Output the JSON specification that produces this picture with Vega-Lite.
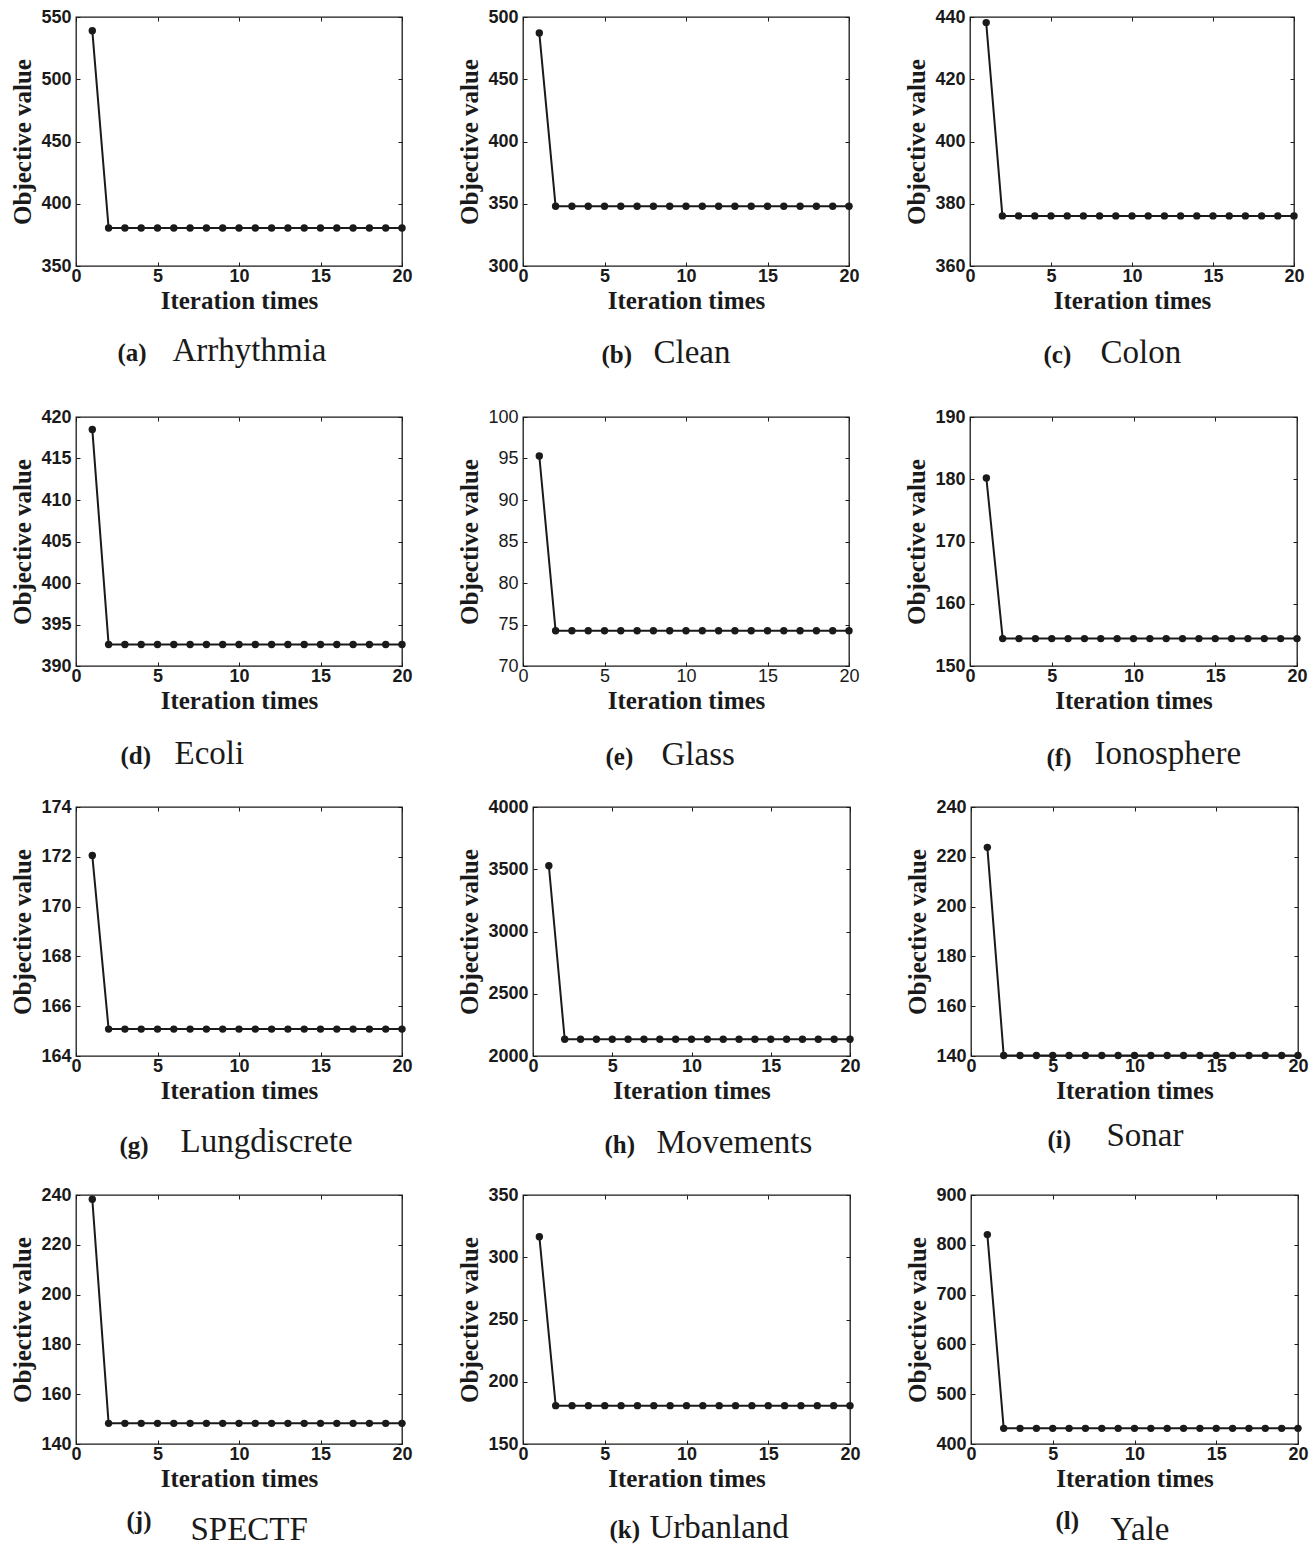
{
"$schema":"https://vega.github.io/schema/vega-lite/v6.json",
"padding":{"left":10,"top":7,"right":5,"bottom":0},
"background":"white",
"datasets":{
"a":[{"iter":1,"value":539},{"iter":2,"value":380.5},{"iter":3,"value":380.5},{"iter":4,"value":380.5},{"iter":5,"value":380.5},{"iter":6,"value":380.5},{"iter":7,"value":380.5},{"iter":8,"value":380.5},{"iter":9,"value":380.5},{"iter":10,"value":380.5},{"iter":11,"value":380.5},{"iter":12,"value":380.5},{"iter":13,"value":380.5},{"iter":14,"value":380.5},{"iter":15,"value":380.5},{"iter":16,"value":380.5},{"iter":17,"value":380.5},{"iter":18,"value":380.5},{"iter":19,"value":380.5},{"iter":20,"value":380.5}],
"b":[{"iter":1,"value":487.2},{"iter":2,"value":348},{"iter":3,"value":348},{"iter":4,"value":348},{"iter":5,"value":348},{"iter":6,"value":348},{"iter":7,"value":348},{"iter":8,"value":348},{"iter":9,"value":348},{"iter":10,"value":348},{"iter":11,"value":348},{"iter":12,"value":348},{"iter":13,"value":348},{"iter":14,"value":348},{"iter":15,"value":348},{"iter":16,"value":348},{"iter":17,"value":348},{"iter":18,"value":348},{"iter":19,"value":348},{"iter":20,"value":348}],
"c":[{"iter":1,"value":438.2},{"iter":2,"value":376.1},{"iter":3,"value":376.1},{"iter":4,"value":376.1},{"iter":5,"value":376.1},{"iter":6,"value":376.1},{"iter":7,"value":376.1},{"iter":8,"value":376.1},{"iter":9,"value":376.1},{"iter":10,"value":376.1},{"iter":11,"value":376.1},{"iter":12,"value":376.1},{"iter":13,"value":376.1},{"iter":14,"value":376.1},{"iter":15,"value":376.1},{"iter":16,"value":376.1},{"iter":17,"value":376.1},{"iter":18,"value":376.1},{"iter":19,"value":376.1},{"iter":20,"value":376.1}],
"d":[{"iter":1,"value":418.5},{"iter":2,"value":392.6},{"iter":3,"value":392.6},{"iter":4,"value":392.6},{"iter":5,"value":392.6},{"iter":6,"value":392.6},{"iter":7,"value":392.6},{"iter":8,"value":392.6},{"iter":9,"value":392.6},{"iter":10,"value":392.6},{"iter":11,"value":392.6},{"iter":12,"value":392.6},{"iter":13,"value":392.6},{"iter":14,"value":392.6},{"iter":15,"value":392.6},{"iter":16,"value":392.6},{"iter":17,"value":392.6},{"iter":18,"value":392.6},{"iter":19,"value":392.6},{"iter":20,"value":392.6}],
"e":[{"iter":1,"value":95.3},{"iter":2,"value":74.25},{"iter":3,"value":74.25},{"iter":4,"value":74.25},{"iter":5,"value":74.25},{"iter":6,"value":74.25},{"iter":7,"value":74.25},{"iter":8,"value":74.25},{"iter":9,"value":74.25},{"iter":10,"value":74.25},{"iter":11,"value":74.25},{"iter":12,"value":74.25},{"iter":13,"value":74.25},{"iter":14,"value":74.25},{"iter":15,"value":74.25},{"iter":16,"value":74.25},{"iter":17,"value":74.25},{"iter":18,"value":74.25},{"iter":19,"value":74.25},{"iter":20,"value":74.25}],
"f":[{"iter":1,"value":180.2},{"iter":2,"value":154.4},{"iter":3,"value":154.4},{"iter":4,"value":154.4},{"iter":5,"value":154.4},{"iter":6,"value":154.4},{"iter":7,"value":154.4},{"iter":8,"value":154.4},{"iter":9,"value":154.4},{"iter":10,"value":154.4},{"iter":11,"value":154.4},{"iter":12,"value":154.4},{"iter":13,"value":154.4},{"iter":14,"value":154.4},{"iter":15,"value":154.4},{"iter":16,"value":154.4},{"iter":17,"value":154.4},{"iter":18,"value":154.4},{"iter":19,"value":154.4},{"iter":20,"value":154.4}],
"g":[{"iter":1,"value":172.05},{"iter":2,"value":165.08},{"iter":3,"value":165.08},{"iter":4,"value":165.08},{"iter":5,"value":165.08},{"iter":6,"value":165.08},{"iter":7,"value":165.08},{"iter":8,"value":165.08},{"iter":9,"value":165.08},{"iter":10,"value":165.08},{"iter":11,"value":165.08},{"iter":12,"value":165.08},{"iter":13,"value":165.08},{"iter":14,"value":165.08},{"iter":15,"value":165.08},{"iter":16,"value":165.08},{"iter":17,"value":165.08},{"iter":18,"value":165.08},{"iter":19,"value":165.08},{"iter":20,"value":165.08}],
"h":[{"iter":1,"value":3528},{"iter":2,"value":2134},{"iter":3,"value":2134},{"iter":4,"value":2134},{"iter":5,"value":2134},{"iter":6,"value":2134},{"iter":7,"value":2134},{"iter":8,"value":2134},{"iter":9,"value":2134},{"iter":10,"value":2134},{"iter":11,"value":2134},{"iter":12,"value":2134},{"iter":13,"value":2134},{"iter":14,"value":2134},{"iter":15,"value":2134},{"iter":16,"value":2134},{"iter":17,"value":2134},{"iter":18,"value":2134},{"iter":19,"value":2134},{"iter":20,"value":2134}],
"i":[{"iter":1,"value":223.8},{"iter":2,"value":140.2},{"iter":3,"value":140.2},{"iter":4,"value":140.2},{"iter":5,"value":140.2},{"iter":6,"value":140.2},{"iter":7,"value":140.2},{"iter":8,"value":140.2},{"iter":9,"value":140.2},{"iter":10,"value":140.2},{"iter":11,"value":140.2},{"iter":12,"value":140.2},{"iter":13,"value":140.2},{"iter":14,"value":140.2},{"iter":15,"value":140.2},{"iter":16,"value":140.2},{"iter":17,"value":140.2},{"iter":18,"value":140.2},{"iter":19,"value":140.2},{"iter":20,"value":140.2}],
"j":[{"iter":1,"value":238.3},{"iter":2,"value":148.3},{"iter":3,"value":148.3},{"iter":4,"value":148.3},{"iter":5,"value":148.3},{"iter":6,"value":148.3},{"iter":7,"value":148.3},{"iter":8,"value":148.3},{"iter":9,"value":148.3},{"iter":10,"value":148.3},{"iter":11,"value":148.3},{"iter":12,"value":148.3},{"iter":13,"value":148.3},{"iter":14,"value":148.3},{"iter":15,"value":148.3},{"iter":16,"value":148.3},{"iter":17,"value":148.3},{"iter":18,"value":148.3},{"iter":19,"value":148.3},{"iter":20,"value":148.3}],
"k":[{"iter":1,"value":316.5},{"iter":2,"value":180.8},{"iter":3,"value":180.8},{"iter":4,"value":180.8},{"iter":5,"value":180.8},{"iter":6,"value":180.8},{"iter":7,"value":180.8},{"iter":8,"value":180.8},{"iter":9,"value":180.8},{"iter":10,"value":180.8},{"iter":11,"value":180.8},{"iter":12,"value":180.8},{"iter":13,"value":180.8},{"iter":14,"value":180.8},{"iter":15,"value":180.8},{"iter":16,"value":180.8},{"iter":17,"value":180.8},{"iter":18,"value":180.8},{"iter":19,"value":180.8},{"iter":20,"value":180.8}],
"l":[{"iter":1,"value":820.5},{"iter":2,"value":431.4},{"iter":3,"value":431.4},{"iter":4,"value":431.4},{"iter":5,"value":431.4},{"iter":6,"value":431.4},{"iter":7,"value":431.4},{"iter":8,"value":431.4},{"iter":9,"value":431.4},{"iter":10,"value":431.4},{"iter":11,"value":431.4},{"iter":12,"value":431.4},{"iter":13,"value":431.4},{"iter":14,"value":431.4},{"iter":15,"value":431.4},{"iter":16,"value":431.4},{"iter":17,"value":431.4},{"iter":18,"value":431.4},{"iter":19,"value":431.4},{"iter":20,"value":431.4}]
},
"spacing":37,
"vconcat":[
{"spacing":44,"hconcat":[
{"width":326,"height":249,"data":{"name":"a"},"resolve":{"axis":{"x":"independent","y":"independent"}},"layer":[
 {"mark":{"type":"line","color":"#1a1a1a","strokeWidth":2},"encoding":{"x":{"field":"iter","type":"quantitative","scale":{"domain":[0,20],"nice":false,"zero":false},"axis":{"orient":"bottom","values":[0,5,10,15,20],"title":"Iteration times"}},"y":{"field":"value","type":"quantitative","scale":{"domain":[350,550],"nice":false,"zero":false},"axis":{"orient":"left","values":[350,400,450,500,550],"title":"Objective value"}}}},
 {"mark":{"type":"point","filled":true,"color":"#1a1a1a","size":55,"opacity":1},"encoding":{"x":{"field":"iter","type":"quantitative","scale":{"domain":[0,20],"nice":false,"zero":false},"axis":{"orient":"top","values":[0,5,10,15,20],"labels":false,"title":null}},"y":{"field":"value","type":"quantitative","scale":{"domain":[350,550],"nice":false,"zero":false},"axis":{"orient":"right","values":[350,400,450,500,550],"labels":false,"title":null}}}},
 {"mark":{"type":"point","opacity":0},"encoding":{"x":{"field":"iter","type":"quantitative","scale":{"domain":[0,20],"nice":false,"zero":false},"axis":{"orient":"bottom","ticks":false,"labels":false,"title":"(a)","titleFontSize":25,"titleAlign":"left","titleX":41,"titleY":94}},"y":{"field":"value","type":"quantitative","scale":{"domain":[350,550],"nice":false,"zero":false},"axis":null}}},
 {"mark":{"type":"point","opacity":0},"encoding":{"x":{"field":"iter","type":"quantitative","scale":{"domain":[0,20],"nice":false,"zero":false},"axis":{"orient":"bottom","ticks":false,"labels":false,"title":"Arrhythmia","titleFontSize":33,"titleFontWeight":"normal","titleAlign":"left","titleX":96,"titleY":94}},"y":{"field":"value","type":"quantitative","scale":{"domain":[350,550],"nice":false,"zero":false},"axis":null}}}
]},
{"width":326,"height":249,"data":{"name":"b"},"resolve":{"axis":{"x":"independent","y":"independent"}},"layer":[
 {"mark":{"type":"line","color":"#1a1a1a","strokeWidth":2},"encoding":{"x":{"field":"iter","type":"quantitative","scale":{"domain":[0,20],"nice":false,"zero":false},"axis":{"orient":"bottom","values":[0,5,10,15,20],"title":"Iteration times"}},"y":{"field":"value","type":"quantitative","scale":{"domain":[300,500],"nice":false,"zero":false},"axis":{"orient":"left","values":[300,350,400,450,500],"title":"Objective value"}}}},
 {"mark":{"type":"point","filled":true,"color":"#1a1a1a","size":55,"opacity":1},"encoding":{"x":{"field":"iter","type":"quantitative","scale":{"domain":[0,20],"nice":false,"zero":false},"axis":{"orient":"top","values":[0,5,10,15,20],"labels":false,"title":null}},"y":{"field":"value","type":"quantitative","scale":{"domain":[300,500],"nice":false,"zero":false},"axis":{"orient":"right","values":[300,350,400,450,500],"labels":false,"title":null}}}},
 {"mark":{"type":"point","opacity":0},"encoding":{"x":{"field":"iter","type":"quantitative","scale":{"domain":[0,20],"nice":false,"zero":false},"axis":{"orient":"bottom","ticks":false,"labels":false,"title":"(b)","titleFontSize":25,"titleAlign":"left","titleX":78,"titleY":96}},"y":{"field":"value","type":"quantitative","scale":{"domain":[300,500],"nice":false,"zero":false},"axis":null}}},
 {"mark":{"type":"point","opacity":0},"encoding":{"x":{"field":"iter","type":"quantitative","scale":{"domain":[0,20],"nice":false,"zero":false},"axis":{"orient":"bottom","ticks":false,"labels":false,"title":"Clean","titleFontSize":33,"titleFontWeight":"normal","titleAlign":"left","titleX":130,"titleY":96}},"y":{"field":"value","type":"quantitative","scale":{"domain":[300,500],"nice":false,"zero":false},"axis":null}}}
]},
{"width":324,"height":249,"data":{"name":"c"},"resolve":{"axis":{"x":"independent","y":"independent"}},"layer":[
 {"mark":{"type":"line","color":"#1a1a1a","strokeWidth":2},"encoding":{"x":{"field":"iter","type":"quantitative","scale":{"domain":[0,20],"nice":false,"zero":false},"axis":{"orient":"bottom","values":[0,5,10,15,20],"title":"Iteration times"}},"y":{"field":"value","type":"quantitative","scale":{"domain":[360,440],"nice":false,"zero":false},"axis":{"orient":"left","values":[360,380,400,420,440],"title":"Objective value"}}}},
 {"mark":{"type":"point","filled":true,"color":"#1a1a1a","size":55,"opacity":1},"encoding":{"x":{"field":"iter","type":"quantitative","scale":{"domain":[0,20],"nice":false,"zero":false},"axis":{"orient":"top","values":[0,5,10,15,20],"labels":false,"title":null}},"y":{"field":"value","type":"quantitative","scale":{"domain":[360,440],"nice":false,"zero":false},"axis":{"orient":"right","values":[360,380,400,420,440],"labels":false,"title":null}}}},
 {"mark":{"type":"point","opacity":0},"encoding":{"x":{"field":"iter","type":"quantitative","scale":{"domain":[0,20],"nice":false,"zero":false},"axis":{"orient":"bottom","ticks":false,"labels":false,"title":"(c)","titleFontSize":25,"titleAlign":"left","titleX":73,"titleY":96}},"y":{"field":"value","type":"quantitative","scale":{"domain":[360,440],"nice":false,"zero":false},"axis":null}}},
 {"mark":{"type":"point","opacity":0},"encoding":{"x":{"field":"iter","type":"quantitative","scale":{"domain":[0,20],"nice":false,"zero":false},"axis":{"orient":"bottom","ticks":false,"labels":false,"title":"Colon","titleFontSize":33,"titleFontWeight":"normal","titleAlign":"left","titleX":130,"titleY":96}},"y":{"field":"value","type":"quantitative","scale":{"domain":[360,440],"nice":false,"zero":false},"axis":null}}}
]}
]},
{"spacing":25,"vconcat":[
{"spacing":44,"hconcat":[
{"width":326,"height":249,"data":{"name":"d"},"resolve":{"axis":{"x":"independent","y":"independent"}},"layer":[
 {"mark":{"type":"line","color":"#1a1a1a","strokeWidth":2},"encoding":{"x":{"field":"iter","type":"quantitative","scale":{"domain":[0,20],"nice":false,"zero":false},"axis":{"orient":"bottom","values":[0,5,10,15,20],"title":"Iteration times"}},"y":{"field":"value","type":"quantitative","scale":{"domain":[390,420],"nice":false,"zero":false},"axis":{"orient":"left","values":[390,395,400,405,410,415,420],"title":"Objective value"}}}},
 {"mark":{"type":"point","filled":true,"color":"#1a1a1a","size":55,"opacity":1},"encoding":{"x":{"field":"iter","type":"quantitative","scale":{"domain":[0,20],"nice":false,"zero":false},"axis":{"orient":"top","values":[0,5,10,15,20],"labels":false,"title":null}},"y":{"field":"value","type":"quantitative","scale":{"domain":[390,420],"nice":false,"zero":false},"axis":{"orient":"right","values":[390,395,400,405,410,415,420],"labels":false,"title":null}}}},
 {"mark":{"type":"point","opacity":0},"encoding":{"x":{"field":"iter","type":"quantitative","scale":{"domain":[0,20],"nice":false,"zero":false},"axis":{"orient":"bottom","ticks":false,"labels":false,"title":"(d)","titleFontSize":25,"titleAlign":"left","titleX":44,"titleY":97}},"y":{"field":"value","type":"quantitative","scale":{"domain":[390,420],"nice":false,"zero":false},"axis":null}}},
 {"mark":{"type":"point","opacity":0},"encoding":{"x":{"field":"iter","type":"quantitative","scale":{"domain":[0,20],"nice":false,"zero":false},"axis":{"orient":"bottom","ticks":false,"labels":false,"title":"Ecoli","titleFontSize":33,"titleFontWeight":"normal","titleAlign":"left","titleX":98,"titleY":97}},"y":{"field":"value","type":"quantitative","scale":{"domain":[390,420],"nice":false,"zero":false},"axis":null}}}
]},
{"width":326,"height":249,"data":{"name":"e"},"resolve":{"axis":{"x":"independent","y":"independent"}},"layer":[
 {"mark":{"type":"line","color":"#1a1a1a","strokeWidth":2},"encoding":{"x":{"field":"iter","type":"quantitative","scale":{"domain":[0,20],"nice":false,"zero":false},"axis":{"orient":"bottom","values":[0,5,10,15,20],"title":"Iteration times","labelFontWeight":"normal"}},"y":{"field":"value","type":"quantitative","scale":{"domain":[70,100],"nice":false,"zero":false},"axis":{"orient":"left","values":[70,75,80,85,90,95,100],"title":"Objective value","labelFontWeight":"normal"}}}},
 {"mark":{"type":"point","filled":true,"color":"#1a1a1a","size":55,"opacity":1},"encoding":{"x":{"field":"iter","type":"quantitative","scale":{"domain":[0,20],"nice":false,"zero":false},"axis":{"orient":"top","values":[0,5,10,15,20],"labels":false,"title":null}},"y":{"field":"value","type":"quantitative","scale":{"domain":[70,100],"nice":false,"zero":false},"axis":{"orient":"right","values":[70,75,80,85,90,95,100],"labels":false,"title":null}}}},
 {"mark":{"type":"point","opacity":0},"encoding":{"x":{"field":"iter","type":"quantitative","scale":{"domain":[0,20],"nice":false,"zero":false},"axis":{"orient":"bottom","ticks":false,"labels":false,"title":"(e)","titleFontSize":25,"titleAlign":"left","titleX":82,"titleY":98}},"y":{"field":"value","type":"quantitative","scale":{"domain":[70,100],"nice":false,"zero":false},"axis":null}}},
 {"mark":{"type":"point","opacity":0},"encoding":{"x":{"field":"iter","type":"quantitative","scale":{"domain":[0,20],"nice":false,"zero":false},"axis":{"orient":"bottom","ticks":false,"labels":false,"title":"Glass","titleFontSize":33,"titleFontWeight":"normal","titleAlign":"left","titleX":138,"titleY":98}},"y":{"field":"value","type":"quantitative","scale":{"domain":[70,100],"nice":false,"zero":false},"axis":null}}}
]},
{"width":327,"height":249,"data":{"name":"f"},"resolve":{"axis":{"x":"independent","y":"independent"}},"layer":[
 {"mark":{"type":"line","color":"#1a1a1a","strokeWidth":2},"encoding":{"x":{"field":"iter","type":"quantitative","scale":{"domain":[0,20],"nice":false,"zero":false},"axis":{"orient":"bottom","values":[0,5,10,15,20],"title":"Iteration times"}},"y":{"field":"value","type":"quantitative","scale":{"domain":[150,190],"nice":false,"zero":false},"axis":{"orient":"left","values":[150,160,170,180,190],"title":"Objective value"}}}},
 {"mark":{"type":"point","filled":true,"color":"#1a1a1a","size":55,"opacity":1},"encoding":{"x":{"field":"iter","type":"quantitative","scale":{"domain":[0,20],"nice":false,"zero":false},"axis":{"orient":"top","values":[0,5,10,15,20],"labels":false,"title":null}},"y":{"field":"value","type":"quantitative","scale":{"domain":[150,190],"nice":false,"zero":false},"axis":{"orient":"right","values":[150,160,170,180,190],"labels":false,"title":null}}}},
 {"mark":{"type":"point","opacity":0},"encoding":{"x":{"field":"iter","type":"quantitative","scale":{"domain":[0,20],"nice":false,"zero":false},"axis":{"orient":"bottom","ticks":false,"labels":false,"title":"(f)","titleFontSize":25,"titleAlign":"left","titleX":76,"titleY":99}},"y":{"field":"value","type":"quantitative","scale":{"domain":[150,190],"nice":false,"zero":false},"axis":null}}},
 {"mark":{"type":"point","opacity":0},"encoding":{"x":{"field":"iter","type":"quantitative","scale":{"domain":[0,20],"nice":false,"zero":false},"axis":{"orient":"bottom","ticks":false,"labels":false,"title":"Ionosphere","titleFontSize":33,"titleFontWeight":"normal","titleAlign":"left","titleX":124,"titleY":97}},"y":{"field":"value","type":"quantitative","scale":{"domain":[150,190],"nice":false,"zero":false},"axis":null}}}
]}
]},
{"spacing":44,"hconcat":[
{"width":326,"height":249,"data":{"name":"g"},"resolve":{"axis":{"x":"independent","y":"independent"}},"layer":[
 {"mark":{"type":"line","color":"#1a1a1a","strokeWidth":2},"encoding":{"x":{"field":"iter","type":"quantitative","scale":{"domain":[0,20],"nice":false,"zero":false},"axis":{"orient":"bottom","values":[0,5,10,15,20],"title":"Iteration times"}},"y":{"field":"value","type":"quantitative","scale":{"domain":[164,174],"nice":false,"zero":false},"axis":{"orient":"left","values":[164,166,168,170,172,174],"title":"Objective value"}}}},
 {"mark":{"type":"point","filled":true,"color":"#1a1a1a","size":55,"opacity":1},"encoding":{"x":{"field":"iter","type":"quantitative","scale":{"domain":[0,20],"nice":false,"zero":false},"axis":{"orient":"top","values":[0,5,10,15,20],"labels":false,"title":null}},"y":{"field":"value","type":"quantitative","scale":{"domain":[164,174],"nice":false,"zero":false},"axis":{"orient":"right","values":[164,166,168,170,172,174],"labels":false,"title":null}}}},
 {"mark":{"type":"point","opacity":0},"encoding":{"x":{"field":"iter","type":"quantitative","scale":{"domain":[0,20],"nice":false,"zero":false},"axis":{"orient":"bottom","ticks":false,"labels":false,"title":"(g)","titleFontSize":25,"titleAlign":"left","titleX":43,"titleY":97}},"y":{"field":"value","type":"quantitative","scale":{"domain":[164,174],"nice":false,"zero":false},"axis":null}}},
 {"mark":{"type":"point","opacity":0},"encoding":{"x":{"field":"iter","type":"quantitative","scale":{"domain":[0,20],"nice":false,"zero":false},"axis":{"orient":"bottom","ticks":false,"labels":false,"title":"Lungdiscrete","titleFontSize":33,"titleFontWeight":"normal","titleAlign":"left","titleX":104,"titleY":95}},"y":{"field":"value","type":"quantitative","scale":{"domain":[164,174],"nice":false,"zero":false},"axis":null}}}
]},
{"width":317,"height":249,"data":{"name":"h"},"resolve":{"axis":{"x":"independent","y":"independent"}},"layer":[
 {"mark":{"type":"line","color":"#1a1a1a","strokeWidth":2},"encoding":{"x":{"field":"iter","type":"quantitative","scale":{"domain":[0,20],"nice":false,"zero":false},"axis":{"orient":"bottom","values":[0,5,10,15,20],"title":"Iteration times"}},"y":{"field":"value","type":"quantitative","scale":{"domain":[2000,4000],"nice":false,"zero":false},"axis":{"orient":"left","values":[2000,2500,3000,3500,4000],"format":"d","title":"Objective value"}}}},
 {"mark":{"type":"point","filled":true,"color":"#1a1a1a","size":55,"opacity":1},"encoding":{"x":{"field":"iter","type":"quantitative","scale":{"domain":[0,20],"nice":false,"zero":false},"axis":{"orient":"top","values":[0,5,10,15,20],"labels":false,"title":null}},"y":{"field":"value","type":"quantitative","scale":{"domain":[2000,4000],"nice":false,"zero":false},"axis":{"orient":"right","values":[2000,2500,3000,3500,4000],"labels":false,"title":null}}}},
 {"mark":{"type":"point","opacity":0},"encoding":{"x":{"field":"iter","type":"quantitative","scale":{"domain":[0,20],"nice":false,"zero":false},"axis":{"orient":"bottom","ticks":false,"labels":false,"title":"(h)","titleFontSize":25,"titleAlign":"left","titleX":71,"titleY":96}},"y":{"field":"value","type":"quantitative","scale":{"domain":[2000,4000],"nice":false,"zero":false},"axis":null}}},
 {"mark":{"type":"point","opacity":0},"encoding":{"x":{"field":"iter","type":"quantitative","scale":{"domain":[0,20],"nice":false,"zero":false},"axis":{"orient":"bottom","ticks":false,"labels":false,"title":"Movements","titleFontSize":33,"titleFontWeight":"normal","titleAlign":"left","titleX":123,"titleY":96}},"y":{"field":"value","type":"quantitative","scale":{"domain":[2000,4000],"nice":false,"zero":false},"axis":null}}}
]},
{"width":327,"height":249,"data":{"name":"i"},"resolve":{"axis":{"x":"independent","y":"independent"}},"layer":[
 {"mark":{"type":"line","color":"#1a1a1a","strokeWidth":2},"encoding":{"x":{"field":"iter","type":"quantitative","scale":{"domain":[0,20],"nice":false,"zero":false},"axis":{"orient":"bottom","values":[0,5,10,15,20],"title":"Iteration times"}},"y":{"field":"value","type":"quantitative","scale":{"domain":[140,240],"nice":false,"zero":false},"axis":{"orient":"left","values":[140,160,180,200,220,240],"title":"Objective value"}}}},
 {"mark":{"type":"point","filled":true,"color":"#1a1a1a","size":55,"opacity":1},"encoding":{"x":{"field":"iter","type":"quantitative","scale":{"domain":[0,20],"nice":false,"zero":false},"axis":{"orient":"top","values":[0,5,10,15,20],"labels":false,"title":null}},"y":{"field":"value","type":"quantitative","scale":{"domain":[140,240],"nice":false,"zero":false},"axis":{"orient":"right","values":[140,160,180,200,220,240],"labels":false,"title":null}}}},
 {"mark":{"type":"point","opacity":0},"encoding":{"x":{"field":"iter","type":"quantitative","scale":{"domain":[0,20],"nice":false,"zero":false},"axis":{"orient":"bottom","ticks":false,"labels":false,"title":"(i)","titleFontSize":25,"titleAlign":"left","titleX":76,"titleY":91}},"y":{"field":"value","type":"quantitative","scale":{"domain":[140,240],"nice":false,"zero":false},"axis":null}}},
 {"mark":{"type":"point","opacity":0},"encoding":{"x":{"field":"iter","type":"quantitative","scale":{"domain":[0,20],"nice":false,"zero":false},"axis":{"orient":"bottom","ticks":false,"labels":false,"title":"Sonar","titleFontSize":33,"titleFontWeight":"normal","titleAlign":"left","titleX":135,"titleY":89}},"y":{"field":"value","type":"quantitative","scale":{"domain":[140,240],"nice":false,"zero":false},"axis":null}}}
]}
]},
{"spacing":44,"hconcat":[
{"width":326,"height":249,"data":{"name":"j"},"resolve":{"axis":{"x":"independent","y":"independent"}},"layer":[
 {"mark":{"type":"line","color":"#1a1a1a","strokeWidth":2},"encoding":{"x":{"field":"iter","type":"quantitative","scale":{"domain":[0,20],"nice":false,"zero":false},"axis":{"orient":"bottom","values":[0,5,10,15,20],"title":"Iteration times"}},"y":{"field":"value","type":"quantitative","scale":{"domain":[140,240],"nice":false,"zero":false},"axis":{"orient":"left","values":[140,160,180,200,220,240],"title":"Objective value"}}}},
 {"mark":{"type":"point","filled":true,"color":"#1a1a1a","size":55,"opacity":1},"encoding":{"x":{"field":"iter","type":"quantitative","scale":{"domain":[0,20],"nice":false,"zero":false},"axis":{"orient":"top","values":[0,5,10,15,20],"labels":false,"title":null}},"y":{"field":"value","type":"quantitative","scale":{"domain":[140,240],"nice":false,"zero":false},"axis":{"orient":"right","values":[140,160,180,200,220,240],"labels":false,"title":null}}}},
 {"mark":{"type":"point","opacity":0},"encoding":{"x":{"field":"iter","type":"quantitative","scale":{"domain":[0,20],"nice":false,"zero":false},"axis":{"orient":"bottom","ticks":false,"labels":false,"title":"(j)","titleFontSize":25,"titleAlign":"left","titleX":50,"titleY":84}},"y":{"field":"value","type":"quantitative","scale":{"domain":[140,240],"nice":false,"zero":false},"axis":null}}},
 {"mark":{"type":"point","opacity":0},"encoding":{"x":{"field":"iter","type":"quantitative","scale":{"domain":[0,20],"nice":false,"zero":false},"axis":{"orient":"bottom","ticks":false,"labels":false,"title":"SPECTF","titleFontSize":33,"titleFontWeight":"normal","titleAlign":"left","titleX":114,"titleY":95}},"y":{"field":"value","type":"quantitative","scale":{"domain":[140,240],"nice":false,"zero":false},"axis":null}}}
]},
{"width":327,"height":249,"data":{"name":"k"},"resolve":{"axis":{"x":"independent","y":"independent"}},"layer":[
 {"mark":{"type":"line","color":"#1a1a1a","strokeWidth":2},"encoding":{"x":{"field":"iter","type":"quantitative","scale":{"domain":[0,20],"nice":false,"zero":false},"axis":{"orient":"bottom","values":[0,5,10,15,20],"title":"Iteration times"}},"y":{"field":"value","type":"quantitative","scale":{"domain":[150,350],"nice":false,"zero":false},"axis":{"orient":"left","values":[150,200,250,300,350],"title":"Objective value"}}}},
 {"mark":{"type":"point","filled":true,"color":"#1a1a1a","size":55,"opacity":1},"encoding":{"x":{"field":"iter","type":"quantitative","scale":{"domain":[0,20],"nice":false,"zero":false},"axis":{"orient":"top","values":[0,5,10,15,20],"labels":false,"title":null}},"y":{"field":"value","type":"quantitative","scale":{"domain":[150,350],"nice":false,"zero":false},"axis":{"orient":"right","values":[150,200,250,300,350],"labels":false,"title":null}}}},
 {"mark":{"type":"point","opacity":0},"encoding":{"x":{"field":"iter","type":"quantitative","scale":{"domain":[0,20],"nice":false,"zero":false},"axis":{"orient":"bottom","ticks":false,"labels":false,"title":"(k)","titleFontSize":25,"titleAlign":"left","titleX":86,"titleY":93}},"y":{"field":"value","type":"quantitative","scale":{"domain":[150,350],"nice":false,"zero":false},"axis":null}}},
 {"mark":{"type":"point","opacity":0},"encoding":{"x":{"field":"iter","type":"quantitative","scale":{"domain":[0,20],"nice":false,"zero":false},"axis":{"orient":"bottom","ticks":false,"labels":false,"title":"Urbanland","titleFontSize":33,"titleFontWeight":"normal","titleAlign":"left","titleX":126,"titleY":93}},"y":{"field":"value","type":"quantitative","scale":{"domain":[150,350],"nice":false,"zero":false},"axis":null}}}
]},
{"width":327,"height":249,"data":{"name":"l"},"resolve":{"axis":{"x":"independent","y":"independent"}},"layer":[
 {"mark":{"type":"line","color":"#1a1a1a","strokeWidth":2},"encoding":{"x":{"field":"iter","type":"quantitative","scale":{"domain":[0,20],"nice":false,"zero":false},"axis":{"orient":"bottom","values":[0,5,10,15,20],"title":"Iteration times"}},"y":{"field":"value","type":"quantitative","scale":{"domain":[400,900],"nice":false,"zero":false},"axis":{"orient":"left","values":[400,500,600,700,800,900],"title":"Objective value"}}}},
 {"mark":{"type":"point","filled":true,"color":"#1a1a1a","size":55,"opacity":1},"encoding":{"x":{"field":"iter","type":"quantitative","scale":{"domain":[0,20],"nice":false,"zero":false},"axis":{"orient":"top","values":[0,5,10,15,20],"labels":false,"title":null}},"y":{"field":"value","type":"quantitative","scale":{"domain":[400,900],"nice":false,"zero":false},"axis":{"orient":"right","values":[400,500,600,700,800,900],"labels":false,"title":null}}}},
 {"mark":{"type":"point","opacity":0},"encoding":{"x":{"field":"iter","type":"quantitative","scale":{"domain":[0,20],"nice":false,"zero":false},"axis":{"orient":"bottom","ticks":false,"labels":false,"title":"(l)","titleFontSize":25,"titleAlign":"left","titleX":84,"titleY":84}},"y":{"field":"value","type":"quantitative","scale":{"domain":[400,900],"nice":false,"zero":false},"axis":null}}},
 {"mark":{"type":"point","opacity":0},"encoding":{"x":{"field":"iter","type":"quantitative","scale":{"domain":[0,20],"nice":false,"zero":false},"axis":{"orient":"bottom","ticks":false,"labels":false,"title":"Yale","titleFontSize":33,"titleFontWeight":"normal","titleAlign":"left","titleX":139,"titleY":95}},"y":{"field":"value","type":"quantitative","scale":{"domain":[400,900],"nice":false,"zero":false},"axis":null}}}
]}
]}
]}
],
"config":{
 "view":{"stroke":"#1a1a1a","strokeWidth":1.3},
 "axis":{"domain":false,"grid":false,"tickColor":"#1a1a1a","tickSize":-4,"tickWidth":1,"labelColor":"#1a1a1a","labelFont":"Liberation Sans","labelFontSize":18,"labelFontWeight":"bold","labelFlush":false,"labelOverlap":false,"labelBound":false,"titleColor":"#1a1a1a","titleFont":"Liberation Serif","titleFontSize":25,"titleFontWeight":"bold"},
 "axisX":{"labelPadding":5,"titleBaseline":"alphabetic","titleY":42},
 "axisY":{"labelPadding":9,"titlePadding":5}
}
}
